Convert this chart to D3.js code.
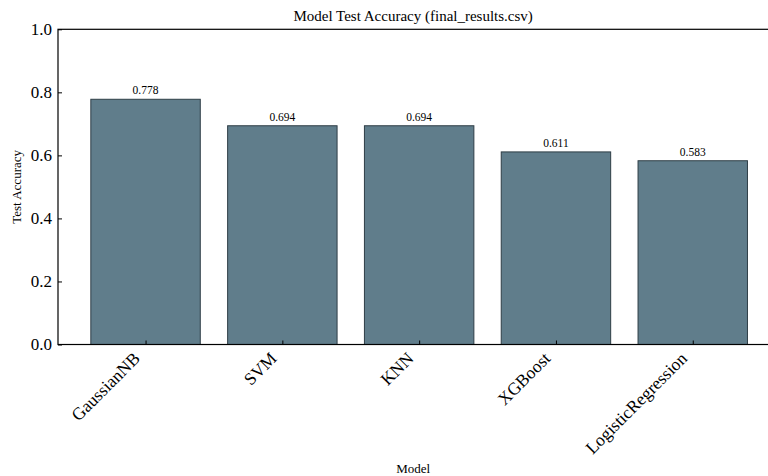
<!DOCTYPE html>
<html><head><meta charset="utf-8">
<script src="https://cdn.jsdelivr.net/npm/d3@7"></script>
<style>body{margin:0;background:#fff}svg{display:block}text{font-family:"Liberation Serif","Times New Roman",serif;fill:#000}</style>
</head><body><svg id="c" width="768" height="476"></svg>
<script>
const models = ["GaussianNB","SVM","KNN","XGBoost","LogisticRegression"];
const accuracy = [0.778,0.694,0.694,0.611,0.583];
const yTicks = [0.0,0.2,0.4,0.6,0.8,1.0];

const svg = d3.select("#c");
const L=58, T=29.3, B=344.5, step=136.8;
const R = L + step*5.28;
const x = d3.scaleLinear().domain([-0.64,4.64]).range([L,R]);
const y = d3.scaleLinear().domain([0,1]).range([B,T]);
const bw = x(0.4)-x(-0.4);

svg.append("g").selectAll("rect").data(models).join("rect")
  .attr("x",(d,i)=>x(i)-bw/2).attr("width",bw)
  .attr("y",(d,i)=>y(accuracy[i])).attr("height",(d,i)=>B-y(accuracy[i]))
  .attr("fill","#607d8b").attr("stroke","#2f3e46").attr("stroke-width",1);

svg.append("g").selectAll("text").data(models).join("text")
  .attr("x",(d,i)=>x(i)).attr("y",(d,i)=>y(accuracy[i])-5)
  .attr("text-anchor","middle").attr("font-size",11.5)
  .text((d,i)=>accuracy[i].toFixed(3));

// axes
const yAxis = d3.axisLeft(y).tickValues(yTicks).tickFormat(d3.format(".1f")).tickSizeInner(-4).tickSizeOuter(0).tickPadding(6);
const gy = svg.append("g").attr("transform",`translate(${L},0)`).call(yAxis);
gy.select(".domain").remove();
gy.selectAll("text").attr("font-size",17).style("font-family","Liberation Serif");
gy.selectAll("line").attr("stroke","#000");

const xAxis = d3.axisBottom(x).tickValues(d3.range(models.length)).tickFormat(i=>models[i]).tickSizeInner(-4).tickSizeOuter(0);
const gx = svg.append("g").attr("transform",`translate(0,${B})`).call(xAxis);
gx.select(".domain").remove();
gx.selectAll("line").attr("stroke","#000");
gx.selectAll("text").attr("font-size",17.5).style("font-family","Liberation Serif")
  .attr("text-anchor","end").attr("dy",null).attr("y",null)
  .attr("transform","translate(-5,15) rotate(-45)");

// spines
svg.append("rect").attr("x",L).attr("y",T).attr("width",R-L).attr("height",B-T)
  .attr("fill","none").attr("stroke","#000").attr("stroke-width",1.2);

svg.append("text").attr("x",(L+R)/2 - 6).attr("y",21).attr("text-anchor","middle").attr("font-size",15)
  .text("Model Test Accuracy (final_results.csv)");
svg.append("text").attr("x",(L+R)/2 - 6).attr("y",473).attr("text-anchor","middle").attr("font-size",13).text("Model");
svg.append("text").attr("transform",`translate(21,${(T+B)/2}) rotate(-90)`).attr("text-anchor","middle").attr("font-size",13).text("Test Accuracy");
</script></body></html>
